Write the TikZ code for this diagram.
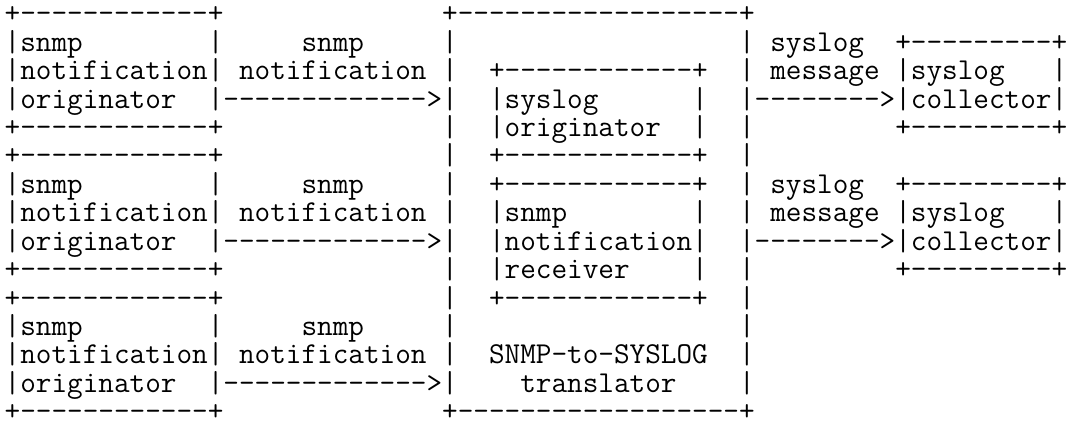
\documentclass[tikz,border=0pt]{standalone}
\ExplSyntaxOn
\cs_new:Npn \asp #1 { \prg_replicate:nn {#1} { \nobreakspace } }
\cs_new:Npn \dsh #1 { \prg_replicate:nn {#1} { - \kern 0pt } }
\ExplSyntaxOff
\newcommand\asciifont{\ttfamily\fontsize{30.34pt}{28.4pt}\selectfont}
\tikzset{asciirow/.style={anchor=base west, inner sep=0pt, outer sep=0pt, text height=16pt, text depth=6pt, font=\asciifont, text=black}}
\begin{document}
\begin{tikzpicture}[x=1pt,y=1pt]
\fill[white] (0,0) rectangle (1090,429);
\useasboundingbox (0,0) rectangle (1090,429);
\node[asciirow] (r1) at (4.7,406.0) {+\dsh{12}+\asp{14}+\dsh{18}+};
\node[asciirow] (r2) at (4.7,377.6) {|snmp\asp{8}|\asp{5}snmp\asp{5}|\asp{18}|\asp{1}syslog\asp{2}+\dsh{9}+};
\node[asciirow] (r3) at (4.7,349.2) {|notification|\asp{1}notification\asp{1}|\asp{2}+\dsh{12}+\asp{2}|\asp{1}message\asp{1}|syslog\asp{3}|};
\node[asciirow] (r4) at (4.7,320.8) {|originator\asp{2}|\dsh{13}>|\asp{2}|syslog\asp{6}|\asp{2}|\dsh{8}>|collector|};
\node[asciirow] (r5) at (4.7,292.4) {+\dsh{12}+\asp{14}|\asp{2}|originator\asp{2}|\asp{2}|\asp{9}+\dsh{9}+};
\node[asciirow] (r6) at (4.7,264.0) {+\dsh{12}+\asp{14}|\asp{2}+\dsh{12}+\asp{2}|};
\node[asciirow] (r7) at (4.7,235.6) {|snmp\asp{8}|\asp{5}snmp\asp{5}|\asp{2}+\dsh{12}+\asp{2}|\asp{1}syslog\asp{2}+\dsh{9}+};
\node[asciirow] (r8) at (4.7,207.2) {|notification|\asp{1}notification\asp{1}|\asp{2}|snmp\asp{8}|\asp{2}|\asp{1}message\asp{1}|syslog\asp{3}|};
\node[asciirow] (r9) at (4.7,178.8) {|originator\asp{2}|\dsh{13}>|\asp{2}|notification|\asp{2}|\dsh{8}>|collector|};
\node[asciirow] (r10) at (4.7,150.4) {+\dsh{12}+\asp{14}|\asp{2}|receiver\asp{4}|\asp{2}|\asp{9}+\dsh{9}+};
\node[asciirow] (r11) at (4.7,122.0) {+\dsh{12}+\asp{14}|\asp{2}+\dsh{12}+\asp{2}|};
\node[asciirow] (r12) at (4.7,93.6) {|snmp\asp{8}|\asp{5}snmp\asp{5}|\asp{18}|};
\node[asciirow] (r13) at (4.7,65.2) {|notification|\asp{1}notification\asp{1}|\asp{2}SNMP-to-SYSLOG\asp{2}|};
\node[asciirow] (r14) at (4.7,36.8) {|originator\asp{2}|\dsh{13}>|\asp{4}translator\asp{4}|};
\node[asciirow] (r15) at (4.7,8.4) {+\dsh{12}+\asp{14}+\dsh{18}+};
\end{tikzpicture}
\end{document}
